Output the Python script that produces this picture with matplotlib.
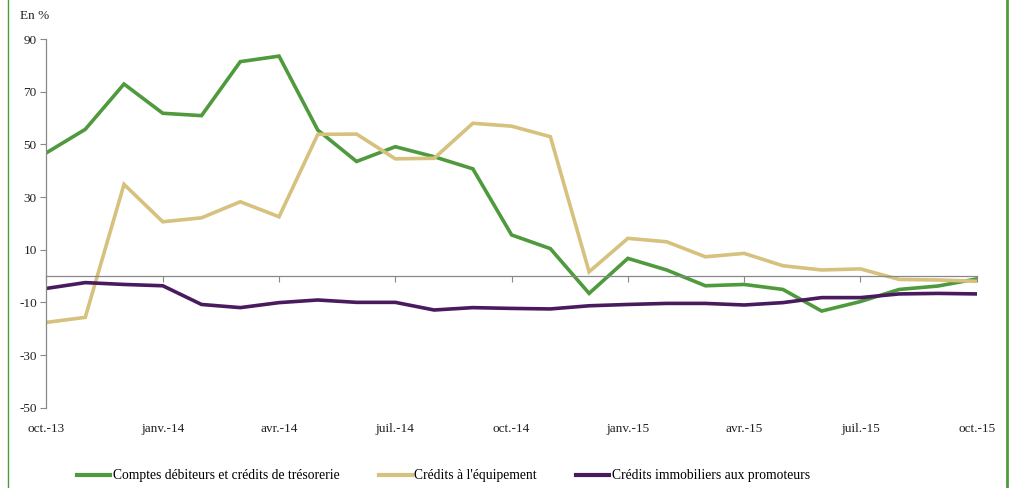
import matplotlib.pyplot as plt
import matplotlib.lines as mlines

months = ['oct.-13', 'nov.-13', 'déc.-13', 'janv.-14', 'févr.-14', 'mars-14', 'avr.-14',
          'mai-14', 'juin-14', 'juil.-14', 'août-14', 'sept.-14', 'oct.-14', 'nov.-14',
          'déc.-14', 'janv.-15', 'févr.-15', 'mars-15', 'avr.-15', 'mai-15', 'juin-15',
          'juil.-15', 'août-15', 'sept.-15', 'oct.-15']

comptes = [46.8, 55.7, 72.9, 61.8, 60.9, 81.4, 83.5, 55.4, 43.5, 49.1, 45.3, 40.7, 15.6,
           10.4, -6.6, 6.7, 2.3, -3.7, -3.2, -5.1, -13.3, -9.7, -5.1, -3.8, -1.1]
equipement = [-17.6, -15.7, 34.8, 20.6, 22.1, 28.2, 22.5, 53.8, 53.9, 44.5, 44.7, 58.0, 56.9,
              52.9, 1.6, 14.3, 13.0, 7.3, 8.6, 3.9, 2.3, 2.7, -1.3, -1.5, -2.0]
promoteurs = [-4.7, -2.5, -3.2, -3.7, -10.8, -12.0, -10.1, -9.1, -10.0, -10.0, -12.9, -12.0, -12.3,
              -12.5, -11.3, -10.8, -10.4, -10.4, -11.0, -10.1, -8.2, -8.2, -6.8, -6.6, -6.8]

labels = ['Comptes débiteurs et crédits de trésorerie', "Crédits à l'équipement",
          'Crédits immobiliers aux promoteurs']
colors = ['#4e9a3c', '#d6c17e', '#4a1a5e']
yticks = [90, 70, 50, 30, 10, -10, -30, -50]

plt.rcParams['font.family'] = ['Liberation Serif', 'DejaVu Serif']
plt.rcParams['axes.unicode_minus'] = False

fig = plt.figure(figsize=(10.2, 4.88), dpi=100)
ax = fig.add_axes([46.5 / 1020, 1 - 407.7 / 488, 930.2 / 1020, 368.7 / 488])

x = list(range(len(months)))
for vals, col in zip([comptes, equipement, promoteurs], colors):
    ax.plot(x, vals, color=col, lw=2.6, solid_joinstyle='miter')

ax.set_xlim(0, len(months) - 1)
ax.set_ylim(-50, 90)
ax.set_yticks(yticks)
ax.tick_params(axis='y', direction='out', length=4, width=0.8, color='#888888',
               labelsize=9.5, labelcolor='#222222', pad=3)

for s in ['top', 'right']:
    ax.spines[s].set_visible(False)
ax.spines['left'].set_color('#888888')
ax.spines['left'].set_linewidth(0.9)
ax.spines['bottom'].set_position(('data', 0))
ax.spines['bottom'].set_color('#888888')
ax.spines['bottom'].set_linewidth(0.9)

qtr = x[::3]
ax.set_xticks(qtr)
ax.set_xticklabels([])
ax.tick_params(axis='x', direction='out', length=4, width=0.8, color='#888888')
for i in qtr:
    ax.annotate(months[i], (i, -50), xytext=(0, -11), textcoords='offset points',
                ha='center', va='top', fontsize=9.5, color='#222222', annotation_clip=False)

fig.text(20 / 1020, 1 - 16 / 488, 'En %', fontsize=9.5, color='#222222', va='center')

handles = [mlines.Line2D([], [], color=c, lw=3) for c in colors]
fig.legend(handles, labels, loc='center', bbox_to_anchor=(0.435, 1 - 476 / 488), ncol=3,
           frameon=False, fontsize=9.8, handlelength=2.4, handletextpad=0.2,
           columnspacing=2.9)

fig.add_artist(mlines.Line2D([8 / 1020, 8 / 1020], [0, 1], color='#4e9a3c', lw=1.0))
fig.add_artist(mlines.Line2D([1007 / 1020, 1007 / 1020], [0, 1], color='#4e9a3c', lw=2.0))

fig.savefig('out.png', dpi=100)
